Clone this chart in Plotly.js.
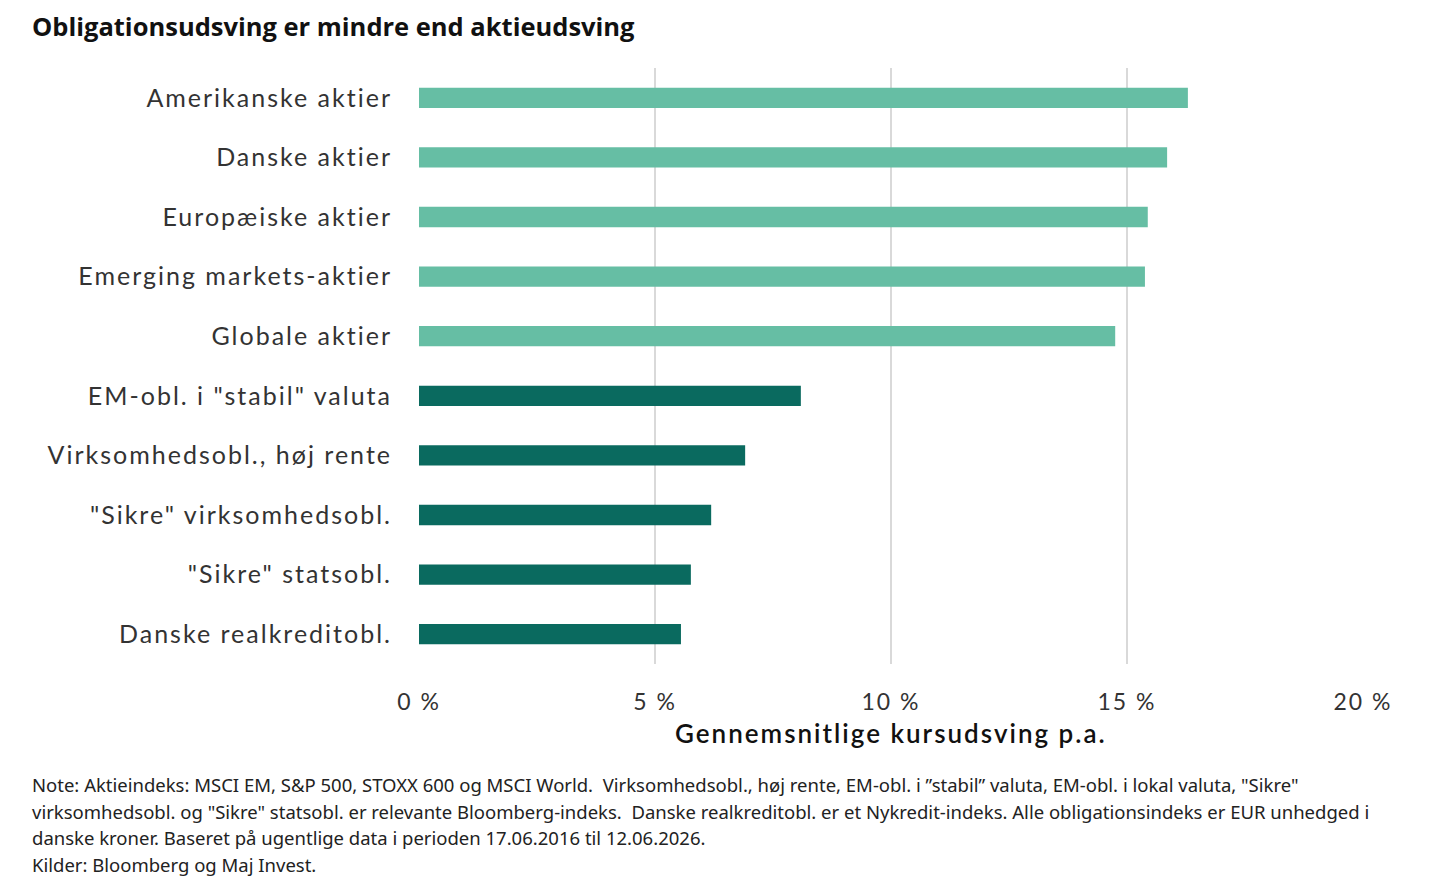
<!DOCTYPE html>
<html>
<head>
<meta charset="utf-8">
<script src="https://cdn.plot.ly/plotly-3.0.1.min.js"></script>
<style>
  html, body { margin: 0; padding: 0; background: #fff; }
  #chart { width: 1440px; height: 885px; }
  #chart .ytick text { letter-spacing: 2px; }
  #chart .xtick text { letter-spacing: 2px; }
  #chart .annotation.axis-title text { letter-spacing: 2px; }
</style>
</head>
<body>
<div id="chart"></div>
<script>
// Average annual price volatility by asset class (%)
const categories = [
  "Amerikanske aktier",
  "Danske aktier",
  "Europæiske aktier",
  "Emerging markets-aktier",
  "Globale aktier",
  "EM-obl. i \"stabil\" valuta",
  "Virksomhedsobl., høj rente",
  "\"Sikre\" virksomhedsobl.",
  "\"Sikre\" statsobl.",
  "Danske realkreditobl."
];
const volatility = [16.29, 15.85, 15.44, 15.38, 14.75, 8.09, 6.91, 6.19, 5.76, 5.55];
const assetType = ["aktie", "aktie", "aktie", "aktie", "aktie", "obl", "obl", "obl", "obl", "obl"];
const xTicks = [0, 5, 10, 15, 20];

const colorFor = { aktie: "#66bea4", obl: "#0a6a5f" };

const titleText = "Obligationsudsving er mindre end aktieudsving";
const xTitle = "Gennemsnitlige kursudsving p.a.";
const noteLines = [
  "Note: Aktieindeks: MSCI EM, S&P 500, STOXX 600 og MSCI World.  Virksomhedsobl., høj rente, EM-obl. i \u201dstabil\u201d valuta, EM-obl. i lokal valuta, \"Sikre\"",
  "virksomhedsobl. og \"Sikre\" statsobl. er relevante Bloomberg-indeks.  Danske realkreditobl. er et Nykredit-indeks. Alle obligationsindeks er EUR unhedged i",
  "danske kroner. Baseret på ugentlige data i perioden 17.06.2016 til 12.06.2026.",
  "Kilder: Bloomberg og Maj Invest."
];

const W = 1440, H = 885;
const M = { l: 419, r: 77, t: 68, b: 221 };
const plotW = W - M.l - M.r, plotH = H - M.t - M.b;
const px2x = px => (px - M.l) / plotW;
const py2y = py => (H - M.b - py) / plotH;

const trace = {
  type: "bar",
  orientation: "h",
  y: categories,
  x: volatility,
  width: 0.34,
  marker: { color: assetType.map(t => colorFor[t]) },
  hoverinfo: "x+y"
};

const annotations = [
  {
    text: "<b>" + titleText + "</b>",
    xref: "paper", yref: "paper",
    x: px2x(30), y: py2y(26),
    xanchor: "left", yanchor: "middle",
    showarrow: false,
    font: { family: "Open Sans, Arial, sans-serif", size: 25.5, color: "#111" }
  },
  {
    text: xTitle,
    xref: "paper", yref: "paper",
    x: 0.5, y: py2y(733),
    xanchor: "center", yanchor: "middle",
    showarrow: false,
    font: { family: "Lato, Arial, sans-serif", size: 26, color: "#111", weight: 600 }
  }
];
const noteY = [784, 811, 837, 864];
noteLines.forEach((line, i) => {
  annotations.push({
    text: line,
    xref: "paper", yref: "paper",
    x: px2x(30), y: py2y(noteY[i]),
    xanchor: "left", yanchor: "middle",
    showarrow: false,
    font: { family: "Noto Sans, Arial, sans-serif", size: 18.5, color: "#222" }
  });
});

const layout = {
  width: W, height: H,
  margin: M,
  paper_bgcolor: "#fff",
  plot_bgcolor: "#fff",
  showlegend: false,
  xaxis: {
    range: [0, 20],
    tickvals: xTicks,
    ticktext: xTicks.map(v => v + " %"),
    showgrid: true,
    gridcolor: "#d9d9d9",
    gridwidth: 1.5,
    zeroline: false,
    showline: false,
    ticks: "",
    ticklabelstandoff: 22,
    tickfont: { family: "Lato, Arial, sans-serif", size: 23, color: "#333" },
    fixedrange: true
  },
  yaxis: {
    autorange: "reversed",
    showgrid: false,
    zeroline: false,
    showline: false,
    ticks: "",
    ticklabelstandoff: 26,
    tickfont: { family: "Lato, Arial, sans-serif", size: 25, color: "#333" },
    fixedrange: true
  },
  annotations: annotations
};

Plotly.newPlot("chart", [trace], layout, { displayModeBar: false, staticPlot: true }).then(gd => {
  // space out the axis title letters like the tick labels
  const anns = gd.querySelectorAll(".annotation");
  if (anns[1]) anns[1].classList.add("axis-title");
});
</script>
</body>
</html>
